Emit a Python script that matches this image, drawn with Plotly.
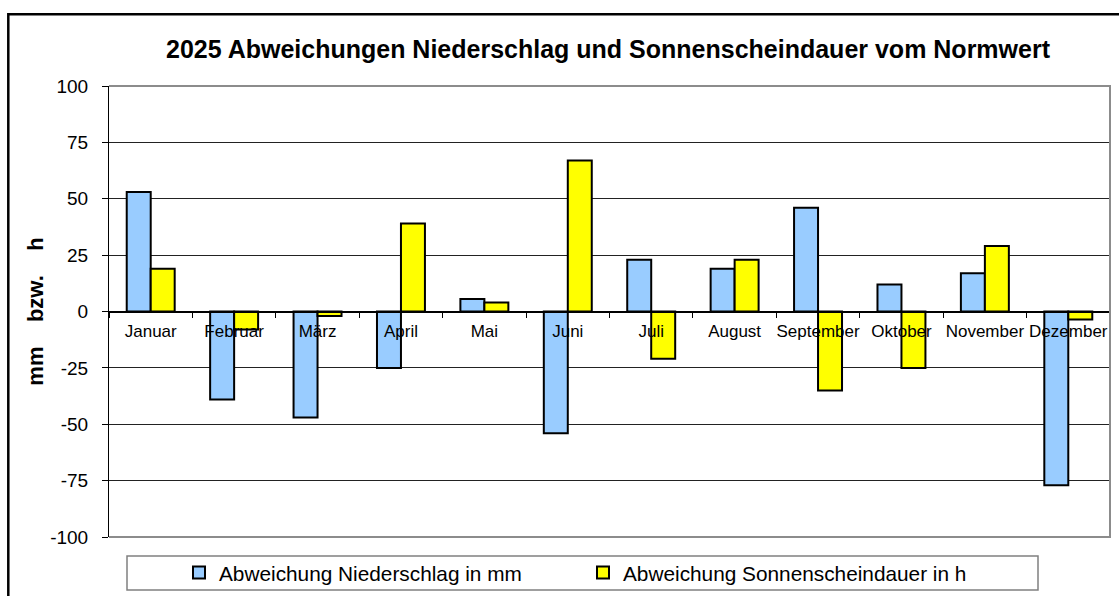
import plotly.graph_objects as go

months = ["Januar", "Februar", "März", "April", "Mai", "Juni", "Juli",
          "August", "September", "Oktober", "November", "Dezember"]
niederschlag = [53, -39, -47, -25, 5.5, -54, 23, 19, 46, 12, 17, -77]
sonnenschein = [19, -8, -2, 39, 4, 67, -21, 23, -35, -25, 29, -3.5]
y_ticks = [100, 75, 50, 25, 0, -25, -50, -75, -100]

W, H = 1119, 596
L, R, T, B = 109, 9, 86, 59
pw, ph = W - L - R, H - T - B


def px(x):
    return (x - L) / pw


def py(y):
    return (H - B - y) / ph


FONT = "Liberation Sans, Arial, sans-serif"

fig = go.Figure()
fig.add_trace(go.Bar(x=months, y=niederschlag, name="Abweichung Niederschlag in mm",
                     marker=dict(color="#99CCFF", line=dict(color="black", width=2))))
fig.add_trace(go.Bar(x=months, y=sonnenschein, name="Abweichung Sonnenscheindauer in h",
                     marker=dict(color="#FFFF00", line=dict(color="black", width=2))))

fig.update_layout(
    width=W, height=H,
    margin=dict(l=L, r=R, t=T, b=B, autoexpand=False),
    paper_bgcolor="white", plot_bgcolor="white",
    font=dict(family=FONT, color="black"),
    barmode="group", bargap=0.425, bargroupgap=0,
    title=dict(text="<b>2025 Abweichungen Niederschlag und Sonnenscheindauer vom Normwert</b>",
               font=dict(size=25, family=FONT, color="black"),
               x=px(608), xref="paper", xanchor="center",
               y=1 - 49 / H, yref="container", yanchor="middle"),
    showlegend=True,
    legend=dict(orientation="h", x=179 / W, xref="container", xanchor="left",
                y=1 - 573 / H, yref="container", yanchor="middle",
                bgcolor="rgba(0,0,0,0)", borderwidth=0,
                font=dict(size=20.8, family=FONT, color="black"),
                entrywidth=359, entrywidthmode="pixels", traceorder="normal"),
    xaxis=dict(type="category", anchor="free", position=0.5, automargin=False,
               showline=True, linecolor="black", linewidth=1,
               ticks="outside", ticklen=5, tickcolor="black", tickson="boundaries",
               tickangle=0, ticklabelstandoff=4,
               showgrid=False, tickfont=dict(size=17, family=FONT, color="black"),
               range=[-0.5, 11.5], fixedrange=True),
    yaxis=dict(range=[-100, 100], tickvals=y_ticks, ticktext=[str(v) for v in y_ticks],
               automargin=False,
               showline=True, linecolor="black", linewidth=1,
               ticks="outside", ticklen=6, tickcolor="black",
               ticklabelstandoff=10,
               showgrid=True, gridcolor="#222222", gridwidth=1,
               zeroline=True, zerolinecolor="black", zerolinewidth=1,
               tickfont=dict(size=19, family=FONT, color="black"),
               title=dict(text="<b>mm\u00a0\u00a0\u00a0\u00a0bzw.\u00a0\u00a0\u00a0\u00a0h</b>",
                          font=dict(size=22, family=FONT, color="black"), standoff=0)),
    shapes=[
        # plot area border (top, right, bottom)
        dict(type="path", xref="paper", yref="paper", path="M0,1 L1,1 L1,0 L0,0",
             line=dict(color="#8c8c8c", width=2), layer="above"),
        # legend box
        dict(type="rect", xref="paper", yref="paper",
             x0=px(127), x1=px(1038), y0=py(590), y1=py(556),
             line=dict(color="#808080", width=1.5), layer="above"),
        # outer chart border
        dict(type="rect", xref="paper", yref="paper",
             x0=px(8.3), x1=px(1200), y0=py(700), y1=py(14.3),
             line=dict(color="black", width=2.5), layer="above"),
    ],
)

fig.write_html("out.html",
               config={"displayModeBar": False},
               post_script="document.body.style.margin='0';"
                           "document.body.style.overflow='hidden';")
